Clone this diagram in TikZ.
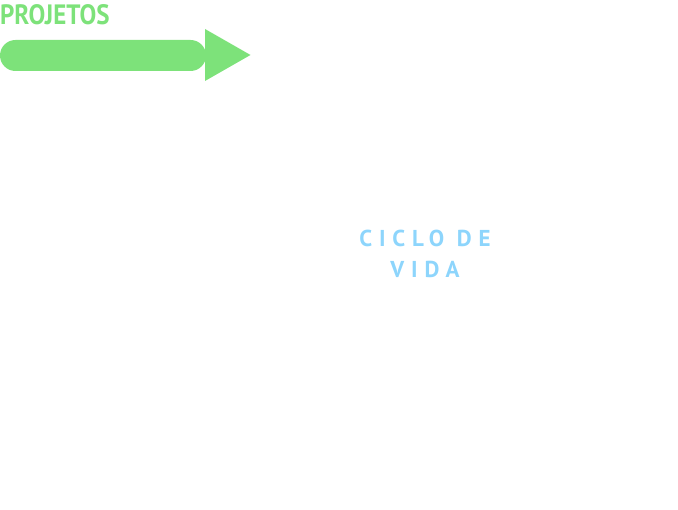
\documentclass[tikz,border=0pt]{standalone}
\usepackage{fontspec}
\setmainfont{PT Sans}
\newfontfamily\spacedfont[LetterSpace=30]{PT Sans}
\definecolor{projgreen}{HTML}{7DE27A}
\definecolor{lifeblue}{HTML}{8DD5FC}
\begin{document}
\begin{tikzpicture}[x=1pt,y=-1pt,
  titletext/.style={text=projgreen,inner sep=0pt,anchor=north west,font=\fontsize{25}{25}\selectfont},
  cycletext/.style={text=lifeblue,inner sep=0pt,align=center,font=\spacedfont\bfseries\fontsize{23}{31}\selectfont}]
\useasboundingbox (0,0) rectangle (678,510);
\node[titletext] (title) at (0,4) {\scalebox{1.0}[1.12]{\textbf{PROJETOS}}};
\fill[projgreen,rounded corners=15.5pt] (0,40) -- (206,40) -- (206,71) -- (0,71) -- cycle;
\fill[projgreen] (205,40) -- (205,29) -- (250.5,55) -- (205,81) -- (205,71) -- cycle;
\node[cycletext] (cycle) at (425,254) {CICLO DE\\VIDA};
\end{tikzpicture}
\end{document}
